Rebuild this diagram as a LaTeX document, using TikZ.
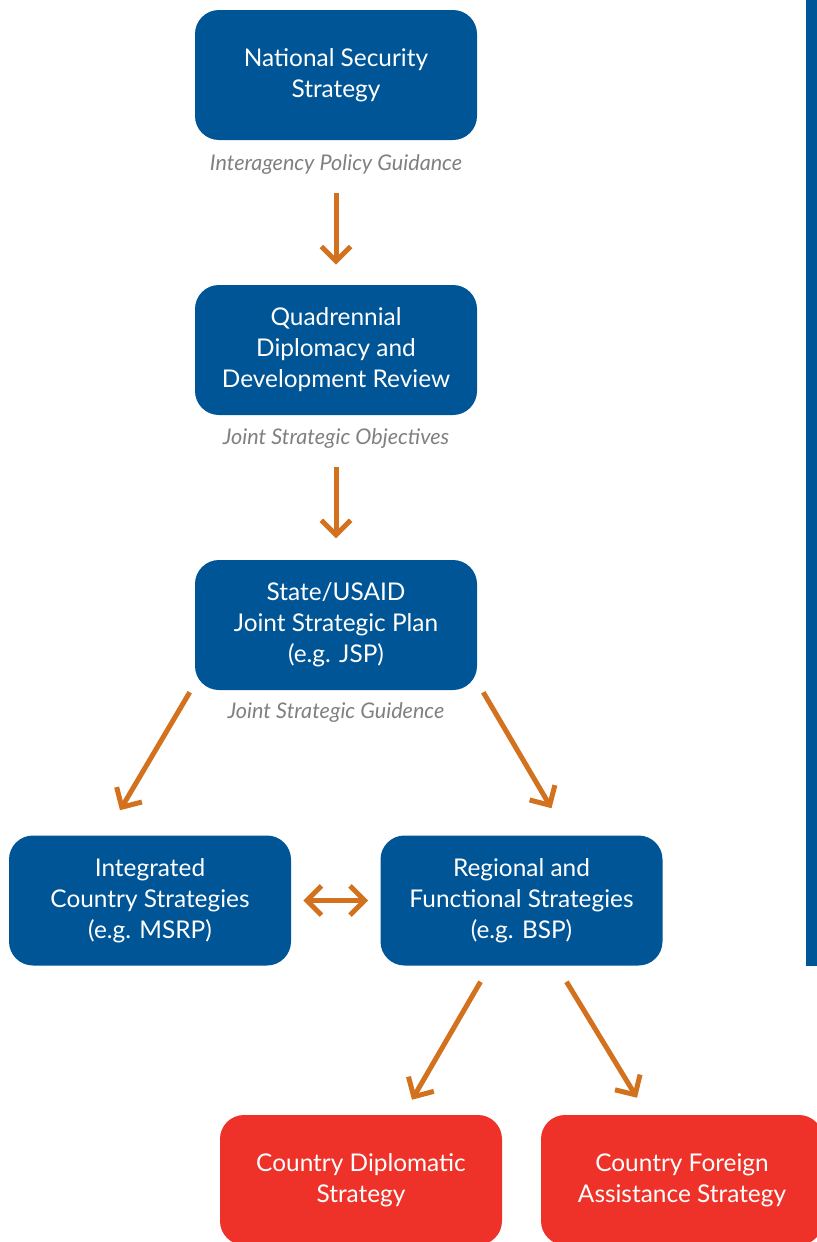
\documentclass[tikz,border=0pt]{standalone}
\usepackage{fontspec}
\setmainfont{Lato}
\usetikzlibrary{arrows.meta}
\definecolor{boxblue}{RGB}{0,85,150}
\definecolor{boxred}{RGB}{238,50,41}
\definecolor{arroworange}{RGB}{210,113,30}
\definecolor{notegray}{RGB}{128,128,128}

\begin{document}
\begin{tikzpicture}[x=0.75pt, y=-0.75pt,
    stratbox/.style={rounded corners=18pt, fill=boxblue, text=white, minimum width=211.5pt,
        minimum height=97.5pt, align=center, inner sep=0pt, font=\fontsize{18.3}{23.2}\selectfont},
    redbox/.style={stratbox, fill=boxred},
    note/.style={text=notegray, font=\fontsize{16.2}{19}\selectfont\itshape},
    flow/.style={draw=arroworange, line width=3.75pt, -{Straight Barb[length=11pt, width=22pt]}},
    twoway/.style={flow, {Straight Barb[length=11pt, width=22pt]}-{Straight Barb[length=11pt, width=22pt]}}]
    \useasboundingbox (0, 0) rectangle (817, 1242);
    \clip (0, 0) rectangle (817, 1242);

    % side bar
    \fill[boxblue] (806, 0) rectangle (817, 966);

    % strategy boxes
    \node[stratbox] (nss) at (336, 75) {National Security\\Strategy};
    \node[note] (nssnote) at (336, 165) {Interagency Policy Guidance};
    \node[stratbox] (qddr) at (336, 350) {Quadrennial\\Diplomacy and\\Development Review};
    \node[note] (qddrnote) at (336, 439) {Joint Strategic Objectives};
    \node[stratbox] (jsp) at (336, 625) {State/USAID\\Joint Strategic Plan\\(e.g. JSP)};
    \node[note] (jspnote) at (336, 713) {Joint Strategic Guidence};
    \node[stratbox] (ics) at (150, 900.5) {Integrated\\Country Strategies\\(e.g. MSRP)};
    \node[stratbox] (rfs) at (521.5, 900.5) {Regional and\\Functional Strategies\\(e.g. BSP)};
    \node[redbox] (cds) at (361, 1180) {Country Diplomatic\\Strategy};
    \node[redbox] (cfas) at (682, 1180) {Country Foreign\\Assistance Strategy};

    % arrows
    \draw[flow, shorten <=10pt, shorten >=15pt] (nssnote.south) -- (qddr.north);
    \draw[flow, shorten <=10pt, shorten >=16pt] (qddrnote.south) -- (jsp.north);
    \draw[flow] ([shift={(-5, 2)}]jsp.south west) -- ([shift={(-30, -25)}]ics.north);
    \draw[flow] ([shift={(6, 2)}]jsp.south east) -- ([shift={(30, -27)}]rfs.north);
    \draw[twoway, shorten <=9pt, shorten >=9pt] (ics.east) -- (rfs.west);
    \draw[flow] ([shift={(-41, 16)}]rfs.south) -- ([shift={(51, -15)}]cds.north);
    \draw[flow] ([shift={(45, 16)}]rfs.south) -- ([shift={(-45, -17)}]cfas.north);
\end{tikzpicture}
\end{document}
